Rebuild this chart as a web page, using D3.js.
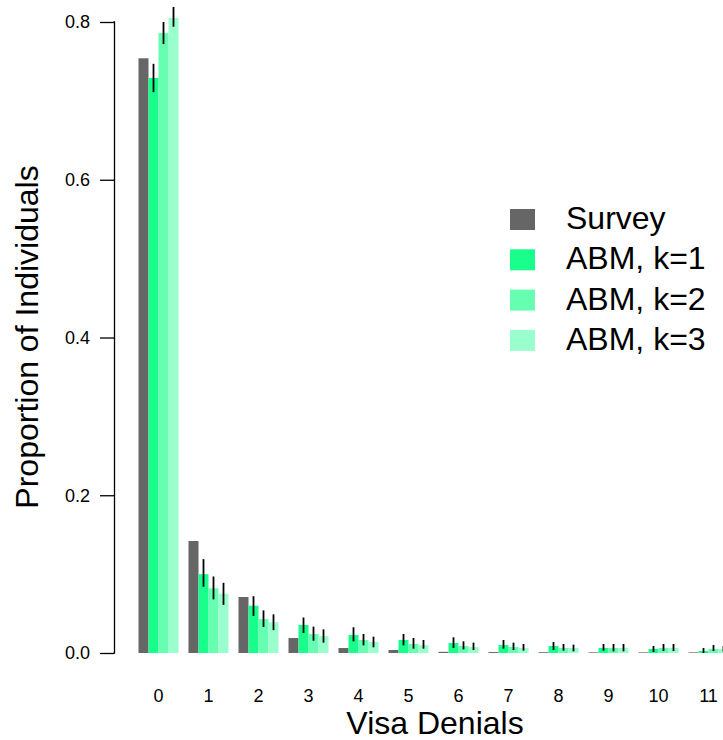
<!DOCTYPE html>
<html>
<head>
<meta charset="utf-8">
<script src="https://cdn.jsdelivr.net/npm/d3@7"></script>
<style>
  body { margin: 0; background: #fff; }
  svg { display: block; font-family: "Liberation Sans", Arial, Helvetica, sans-serif; }
</style>
</head>
<body>
<div class="chart"></div>
<script>
const categories = ["0", "1", "2", "3", "4", "5", "6", "7", "8", "9", "10", "11"]
const seriesNames = ["Survey", "ABM, k=1", "ABM, k=2", "ABM, k=3"]
const colors = ["#666666", "#19ff8c", "#66ffb2", "#99ffcc"]
const yTicks = [0, 0.2, 0.4, 0.6, 0.8]

const survey = [0.754, 0.142, 0.071, 0.019, 0.0063, 0.0038, 0.0015, 0.0012, 0.001, 0.0008, 0.0008, 0.0008]

const k1 = [0.729, 0.100, 0.060, 0.0355, 0.0228, 0.0165, 0.0127, 0.0101, 0.0089, 0.0063, 0.0051, 0.0025]
const k1Lo = [0.711, 0.084, 0.047, 0.0254, 0.0148, 0.0097, 0.0063, 0.0055, 0.0038, 0.0030, 0.0013, 0.0]
const k1Hi = [0.747, 0.119, 0.072, 0.045, 0.0326, 0.0241, 0.0199, 0.0165, 0.0139, 0.0114, 0.0089, 0.0063]

const k2 = [0.786, 0.082, 0.043, 0.0241, 0.0165, 0.0114, 0.0089, 0.0076, 0.0063, 0.0063, 0.0063, 0.0051]
const k2Lo = [0.772, 0.068, 0.033, 0.0156, 0.0097, 0.0055, 0.0046, 0.0038, 0.0030, 0.0021, 0.0025, 0.0025]
const k2Hi = [0.800, 0.097, 0.054, 0.0334, 0.0241, 0.0190, 0.0148, 0.0131, 0.0114, 0.0114, 0.0114, 0.0101]

const k3 = [0.805, 0.075, 0.039, 0.0216, 0.0139, 0.0101, 0.0076, 0.0063, 0.0063, 0.0063, 0.0063, 0.005]
const k3Lo = [0.794, 0.061, 0.029, 0.0131, 0.0072, 0.0055, 0.0038, 0.0030, 0.0021, 0.0021, 0.0025, 0.002]
const k3Hi = [0.819, 0.089, 0.049, 0.030, 0.0207, 0.0165, 0.0131, 0.0114, 0.0106, 0.0114, 0.0114, 0.009]

const width = 723
const height = 740

const values = [survey, k1, k2, k3]
const lows = [null, k1Lo, k2Lo, k3Lo]
const highs = [null, k1Hi, k2Hi, k3Hi]

const rows = []
categories.forEach((c, i) => {
  seriesNames.forEach((s, j) => {
    rows.push({ cat: c, series: s, idx: j, value: values[j][i],
      lo: lows[j] ? lows[j][i] : null, hi: highs[j] ? highs[j][i] : null })
  })
})

const svg = d3.select(".chart").append("svg").attr("width", width).attr("height", height)

const yScale = d3.scaleLinear().domain([0, 0.8]).range([653, 22])
const xScale = d3.scaleBand().domain(categories).range([133.5, 733.5]).paddingInner(0.2).paddingOuter(0.1)
const inner = d3.scaleBand().domain(seriesNames).range([0, xScale.bandwidth()])

// bars
svg.append("g")
  .selectAll("rect")
  .data(rows)
  .join("rect")
  .attr("x", d => xScale(d.cat) + inner(d.series))
  .attr("width", inner.bandwidth())
  .attr("y", d => yScale(d.value))
  .attr("height", d => yScale(0) - yScale(d.value))
  .attr("fill", d => colors[d.idx])

// error bars
svg.append("g")
  .selectAll("line")
  .data(rows.filter(d => d.lo !== null))
  .join("line")
  .attr("x1", d => xScale(d.cat) + inner(d.series) + inner.bandwidth() / 2)
  .attr("x2", d => xScale(d.cat) + inner(d.series) + inner.bandwidth() / 2)
  .attr("y1", d => yScale(d.lo))
  .attr("y2", d => yScale(d.hi))
  .attr("stroke", "#000")
  .attr("stroke-width", 1.8)

// y axis
const yAxis = d3.axisLeft(yScale).tickValues(yTicks).tickSize(14).tickPadding(10).tickFormat(d3.format(".1f"))
const yAxisGroup = svg.append("g").attr("transform", "translate(114,0)").call(yAxis)
yAxisGroup.attr("font-size", null).attr("font-family", null)
yAxisGroup.select(".domain").attr("d", `M-0.5,${yScale(0)}H0.5V${yScale(0.8)}H-0.5`).attr("stroke-width", 1.3)
yAxisGroup.selectAll(".tick line").attr("stroke-width", 1.3)
yAxisGroup.selectAll(".tick text").style("font-size", "18px").attr("fill", "#000")

// x labels (no axis line)
const xAxis = d3.axisBottom(xScale).tickSize(0).tickPadding(0)
const xAxisGroup = svg.append("g").attr("transform", "translate(0,689)").call(xAxis)
xAxisGroup.attr("font-size", null).attr("font-family", null)
xAxisGroup.select(".domain").remove()
xAxisGroup.selectAll(".tick text").style("font-size", "18px").attr("fill", "#000")

// titles
svg.append("text")
  .attr("x", 435).attr("y", 734)
  .attr("text-anchor", "middle")
  .style("font-size", "32px")
  .text("Visa Denials")

svg.append("text")
  .attr("transform", "translate(38,337) rotate(-90)")
  .attr("text-anchor", "middle")
  .style("font-size", "32px")
  .text("Proportion of Individuals")

// legend
const legend = svg.append("g").attr("transform", "translate(510,209)")
const item = legend.selectAll("g").data(seriesNames).join("g")
  .attr("transform", (d, i) => `translate(0,${i * 40.3})`)
item.append("rect").attr("width", 25).attr("height", 21).attr("fill", (d, i) => colors[i])
item.append("text").attr("x", 56).attr("y", 20).style("font-size", "32px").text(d => d)
</script>
</body>
</html>
